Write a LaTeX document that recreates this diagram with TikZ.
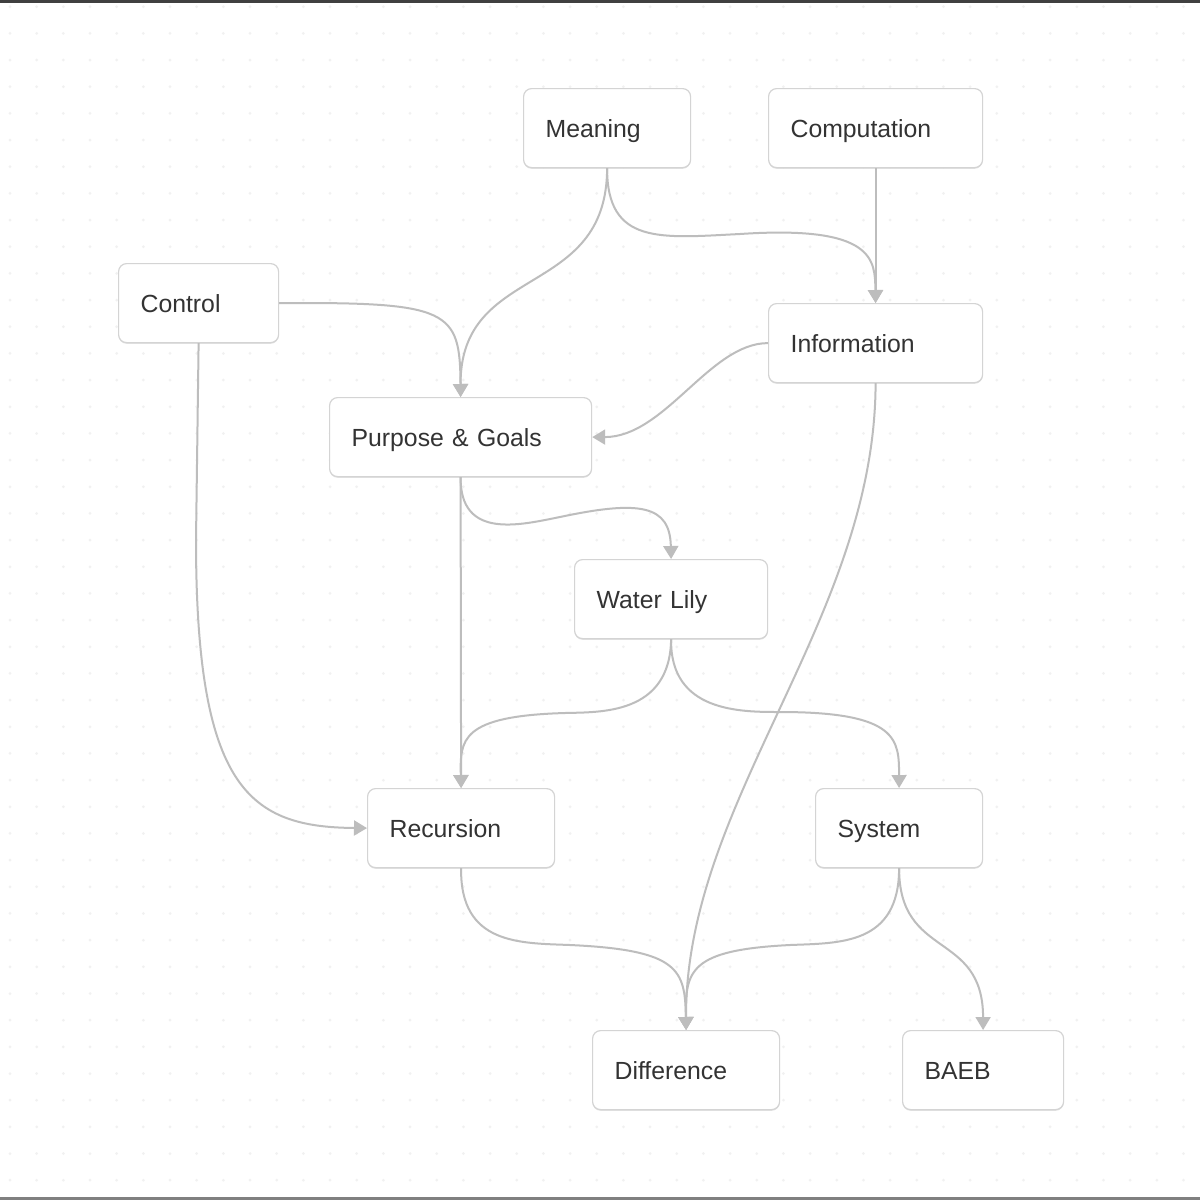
\documentclass[tikz,border=0pt]{standalone}
\usepackage{fontspec}
\setmainfont{Liberation Sans}
\usetikzlibrary{arrows.meta,shadows}
\definecolor{edgec}{HTML}{BDBDBD}
\definecolor{bordc}{HTML}{D4D4D4}
\definecolor{txtc}{HTML}{333333}
\definecolor{dotc}{HTML}{F1F1F1}
\begin{document}
\begin{tikzpicture}[x=0.5pt,y=-0.5pt,
  box/.style={draw=bordc, line width=0.6pt, rounded corners=4pt, fill=white, anchor=north west,
    inner xsep=11pt, inner ysep=0pt, minimum height=39.5pt, align=left, text=txtc,
    text height=9pt, text depth=0pt,
    drop shadow={shadow xshift=0pt, shadow yshift=-0.6pt, opacity=0.12, fill=black},
    font=\fontsize{12.4}{15}\selectfont},
  link/.style={draw=edgec, line width=1pt, -{Triangle[length=6.5pt,width=7.5pt]}}]
% background and frame
\fill[white] (0,0) rectangle (1200,1200);
\useasboundingbox (0,0) rectangle (1200,1200);
\foreach \i in {0,...,44}{
  \foreach \j in {0,...,44}{
    \fill[dotc] ({10+26.67*\i},{6.7+26.67*\j}) circle (0.75pt);
  }
}
\fill[black!75] (0,0) rectangle (1200,3);
\fill[black!50] (0,1197) rectangle (1200,1200);
% nodes
\node[box, text width=61.5pt] (meaning) at (523,88) {Meaning};
\node[box, text width=85pt] (computation) at (768,88) {Computation};
\node[box, text width=58pt] (control) at (118,263) {Control};
\node[box, text width=85pt] (information) at (768,303) {Information};
\node[box, text width=109pt] (purpose) at (329,397) {Purpose \& Goals};
\node[box, text width=74.5pt] (lily) at (574,559) {Water Lily};
\node[box, text width=71.5pt] (recursion) at (367,788) {Recursion};
\node[box, text width=61.5pt] (system) at (815,788) {System};
\node[box, text width=71.5pt] (difference) at (592,1030) {Difference};
\node[box, text width=58.5pt] (baeb) at (902,1030) {BAEB};
% edges
\draw[link] (meaning.south) .. controls (607,300) and (460,262) .. (purpose.north);
\draw[link] (meaning.south) .. controls (607,245) and (660,238) .. (740,234) .. controls (875,225) and (875,260) .. (information.north);
\draw[link] (computation.south) -- (information.north);
\draw[link] (control.east) .. controls (450,302) and (460,310) .. (purpose.north);
\draw[link] (information.west) .. controls (710,343) and (665,437) .. (purpose.east);
\draw[link] (control.south) -- (196,540) .. controls (196,790) and (250,827) .. (recursion.west);
\draw[link] (purpose.south) .. controls (460,540) and (520,525) .. (560,517) .. controls (640,500) and (670,505) .. (lily.north);
\draw[link] (purpose.south) -- (recursion.north);
\draw[link] (lily.south) .. controls (670,715) and (600,712) .. (565,713) .. controls (460,716) and (460,740) .. (recursion.north);
\draw[link] (lily.south) .. controls (670,712) and (740,712) .. (780,712) .. controls (899,712) and (899,740) .. (system.north);
\draw[link] (information.south) .. controls (875,620) and (685,800) .. (difference.north);
\draw[link] (recursion.south) .. controls (460,945) and (520,943) .. (570,945) .. controls (680,950) and (685,970) .. (difference.north);
\draw[link] (system.south) .. controls (899,945) and (840,943) .. (790,945) .. controls (690,950) and (685,970) .. (difference.north);
\draw[link] (system.south) .. controls (899,960) and (983,930) .. (baeb.north);
\end{tikzpicture}
\end{document}
